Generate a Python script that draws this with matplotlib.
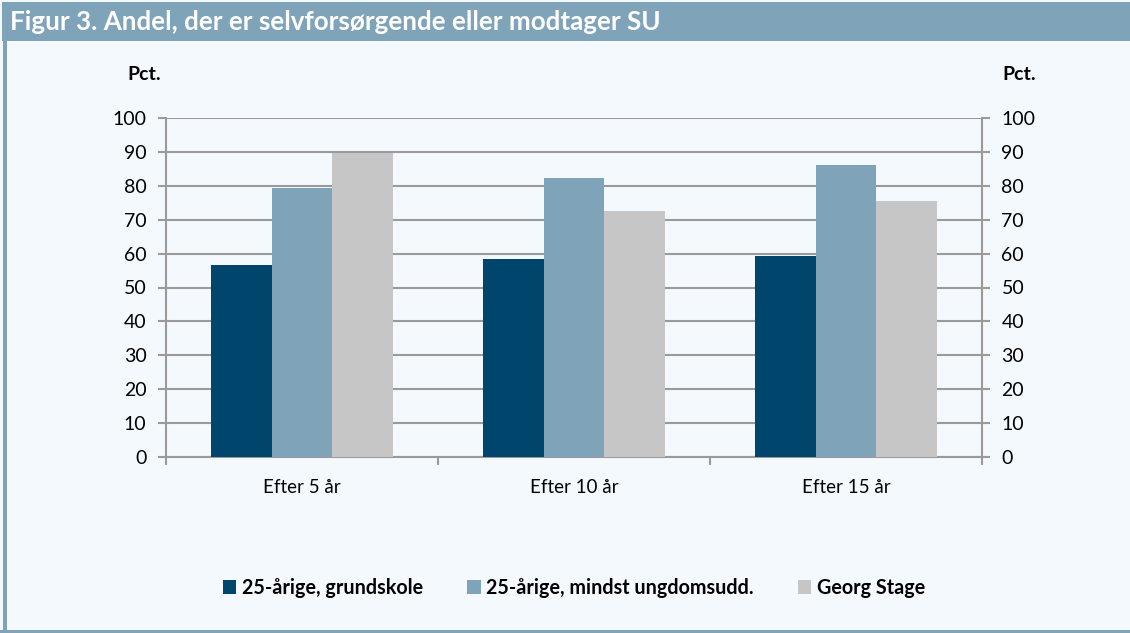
import numpy as np
import matplotlib.pyplot as plt
from matplotlib.patches import Rectangle

# data
categories = ["Efter 5 år", "Efter 10 år", "Efter 15 år"]
series_names = ["25-årige, grundskole", "25-årige, mindst ungdomsudd.", "Georg Stage"]
grundskole = [56.7, 58.4, 59.2]
ungdomsudd = [79.3, 82.3, 86.2]
georg_stage = [89.8, 72.6, 75.4]
colors = ["#00466c", "#7fa3b8", "#c6c6c6"]

bg = "#f4f9fd"
frame = "#7fa3b8"
grid_col = "#9a9a9a"

plt.rcParams['font.family'] = ['Lato', 'DejaVu Sans']

fig = plt.figure(figsize=(11.3, 6.33), dpi=100)
fig.patch.set_facecolor(bg)

# title band and frame
fig.patches.append(Rectangle((2 / 1130, 1 - 41 / 633), 1, 39 / 633, transform=fig.transFigure,
                             facecolor=frame, edgecolor="none", zorder=0))
fig.patches.append(Rectangle((3 / 1130, 0), 4 / 1130, 1 - 41 / 633, transform=fig.transFigure,
                             facecolor=frame, edgecolor="none", zorder=0))
fig.patches.append(Rectangle((0, 0), 1, 3 / 633, transform=fig.transFigure,
                             facecolor=frame, edgecolor="none", zorder=0))
fig.text(10 / 1130, 1 - 22 / 633, "Figur 3. Andel, der er selvforsørgende eller modtager SU",
         color="white", fontsize=18.7, fontweight="bold", va="center", ha="left")

ax = fig.add_axes([166 / 1130, 1 - 457 / 633, 816 / 1130, 339 / 633])
ax.set_facecolor(bg)

x = np.arange(len(categories))
w = 0.222
data = [grundskole, ungdomsudd, georg_stage]
for i, vals in enumerate(data):
    ax.bar(x + (i - 1) * w, vals, width=w, color=colors[i], label=series_names[i], zorder=3)

ax.set_xlim(-0.5, len(categories) - 0.5)
ax.set_ylim(0, 100)
ax.set_yticks(np.arange(0, 101, 10))
ax.yaxis.grid(True, color=grid_col, linewidth=1.5, zorder=1)
ax.set_axisbelow(True)

ax.spines["top"].set_visible(False)
for s in ["left", "right", "bottom"]:
    ax.spines[s].set_color(grid_col)
    ax.spines[s].set_linewidth(1.5)

ax.tick_params(axis="y", which="both", left=True, right=True, labelleft=True, labelright=True,
               length=6, width=1.5, color=grid_col, labelsize=14, pad=8)
ax.set_xticks(x)
ax.set_xticklabels(categories)
ax.tick_params(axis="x", which="major", length=0, labelsize=13.5, pad=16)
ax.set_xticks(np.arange(-0.5, len(categories), 1), minor=True)
ax.tick_params(axis="x", which="minor", length=6, width=1.5, color=grid_col)

fig.text(144 / 1130, 1 - 75 / 633, "Pct.", fontsize=14, fontweight="bold", ha="center", va="center")
fig.text(1019 / 1130, 1 - 75 / 633, "Pct.", fontsize=14, fontweight="bold", ha="center", va="center")

leg = fig.legend(loc="center", bbox_to_anchor=(574 / 1130, 1 - 588 / 633), ncol=3, frameon=False,
                 prop={"size": 14.2, "weight": "bold"}, handlelength=0.7, handleheight=0.7,
                 handletextpad=0.3, columnspacing=2.2)

fig.savefig("out.png", dpi=100, facecolor=bg)
